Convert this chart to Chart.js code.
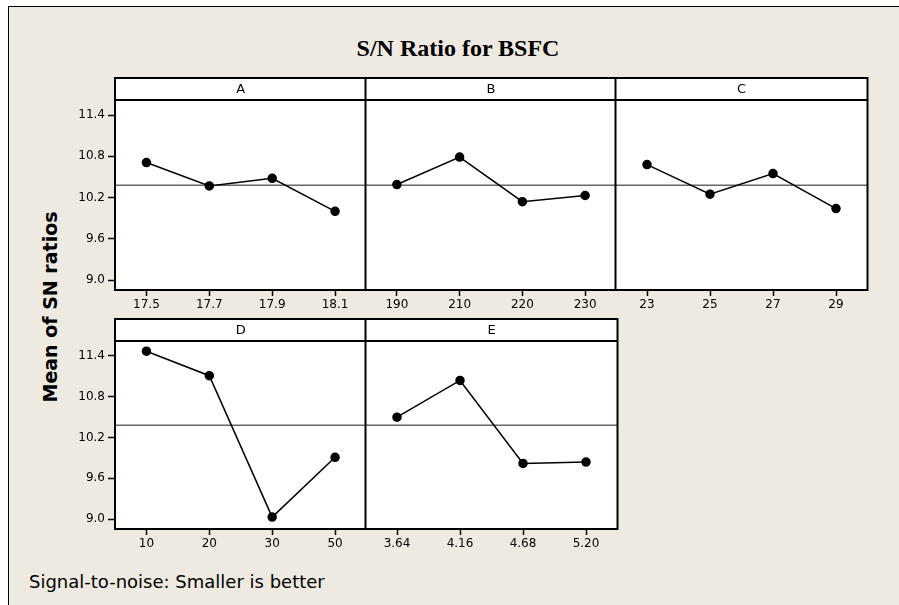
<!DOCTYPE html>
<html>
<head>
<meta charset="utf-8">
<script src="https://cdn.jsdelivr.net/npm/chart.js@4"></script>
<style>
  html, body { margin: 0; background: #fff; overflow: hidden; width: 899px; height: 605px; }
  #frame { position: absolute; left: 8px; top: 6px; width: 891px; height: 599px;
           background: #eeeae1; border-left: 1px solid #000; border-top: 1px solid #000; }
  .panel { position: absolute; }
  #title { position: absolute; left: 0; width: 916px; top: 35px; text-align: center;
           font: bold 24px "Liberation Serif", serif; }
  #ytitle { position: absolute; left: 50px; top: 307px; transform: translate(-50%, -50%) rotate(-90deg);
            font: bold 19px "DejaVu Sans", sans-serif; white-space: nowrap; }
  #note { position: absolute; left: 29px; top: 571px; font: 18px "DejaVu Sans", sans-serif; }
</style>
</head>
<body>
<div id="frame"></div>
<div id="title">S/N Ratio for BSFC</div>
<div id="ytitle">Mean of SN ratios</div>
<div id="note">Signal-to-noise: Smaller is better</div>
<script>
// factor levels and mean S/N ratios
var levelsA = ['17.5', '17.7', '17.9', '18.1'];
var valuesA = [10.71, 10.37, 10.48, 10.00];
var levelsB = ['190', '210', '220', '230'];
var valuesB = [10.39, 10.79, 10.14, 10.23];
var levelsC = ['23', '25', '27', '29'];
var valuesC = [10.68, 10.25, 10.55, 10.04];
var levelsD = ['10', '20', '30', '50'];
var valuesD = [11.47, 11.11, 9.03, 9.91];
var levelsE = ['3.64', '4.16', '4.68', '5.20'];
var valuesE = [10.50, 11.04, 9.82, 9.84];
var grandMean = 10.38;
var yTicks = [9.0, 9.6, 10.2, 10.8, 11.4];

var tickFont = { family: 'DejaVu Sans', size: 12 };

// white panel + strip, box outline and grand mean line
var panelDeco = {
  id: 'panelDeco',
  beforeDraw: function(chart) {
    var a = chart.chartArea, c = chart.ctx;
    c.save();
    c.fillStyle = '#fff';
    c.fillRect(a.left, a.top - 22, a.right - a.left, a.bottom - a.top + 22);
    c.restore();
  },
  beforeDatasetsDraw: function(chart) {
    var a = chart.chartArea, c = chart.ctx;
    var y = chart.scales.y.getPixelForValue(grandMean);
    c.save();
    c.strokeStyle = '#666';
    c.lineWidth = 1.5;
    c.beginPath();
    c.moveTo(a.left, y);
    c.lineTo(a.right, y);
    c.stroke();
    c.restore();
  },
  afterDraw: function(chart) {
    var a = chart.chartArea, c = chart.ctx;
    var s = chart.options.plugins.panelDeco;
    c.save();
    c.strokeStyle = '#000';
    c.lineWidth = 2;
    c.strokeRect(a.left, a.top - 22, a.right - a.left, a.bottom - a.top + 22);
    c.beginPath();
    c.moveTo(a.left, a.top);
    c.lineTo(a.right, a.top);
    c.stroke();
    c.fillStyle = '#000';
    c.font = '13px "DejaVu Sans"';
    c.textAlign = 'center';
    c.textBaseline = 'middle';
    c.fillText(s.label, (a.left + a.right) / 2, a.top - 10);
    c.restore();
  }
};

function makePanel(name, labels, values, plotLeft, plotRight, stripTop, plotBottom, showY) {
  var left = plotLeft - (showY ? 60 : 2);
  var top = stripTop - 2;
  var width = plotRight + 2 - left;
  var div = document.createElement('div');
  div.className = 'panel';
  div.style.left = left + 'px';
  div.style.top = top + 'px';
  div.style.width = width + 'px';
  div.style.height = (plotBottom + 30 - top) + 'px';
  var cv = document.createElement('canvas');
  div.appendChild(cv);
  document.body.appendChild(div);

  var yAxis = {
    display: showY,
    min: 8.855,
    max: 11.62,
    afterBuildTicks: function(sc) { sc.ticks = yTicks.map(function(v) { return { value: v }; }); },
    grid: { drawOnChartArea: false, color: '#000', tickLength: 7, tickWidth: 1.5 },
    border: { display: true, color: '#000', width: 2 },
    ticks: { color: '#000', font: tickFont, padding: 3,
             callback: function(v) { return v.toFixed(1); } }
  };
  if (showY) yAxis.afterFit = function(sc) { sc.width = 60; };

  var ch = new Chart(cv.getContext('2d'), {
    type: 'line',
    data: {
      labels: labels,
      datasets: [{
        data: values,
        borderColor: '#000',
        backgroundColor: '#000',
        borderWidth: 1.5,
        pointRadius: 4,
        pointHoverRadius: 4,
        tension: 0
      }]
    },
    options: {
      responsive: true,
      maintainAspectRatio: false,
      animation: false,
      events: [],
      layout: { padding: { top: 24, left: showY ? 0 : 2, right: 2, bottom: 0 } },
      plugins: {
        legend: { display: false },
        tooltip: { enabled: false },
        panelDeco: { label: name }
      },
      scales: {
        x: {
          offset: true,
          grid: { offset: false, drawOnChartArea: false, color: '#000', tickLength: 6, tickWidth: 1.5 },
          border: { display: false },
          ticks: { color: '#000', font: tickFont, padding: 2, maxRotation: 0, autoSkip: false },
          afterFit: function(sc) { sc.height = 30; }
        },
        y: yAxis
      }
    },
    plugins: [panelDeco]
  });

  // nudge the canvas so the plot area lands on the panel edges
  var a = ch.chartArea;
  var dl = Math.round(left + a.left - plotLeft);
  var dr = Math.round(plotRight - (left + a.right));
  if (dl || dr) {
    div.style.left = (left - dl) + 'px';
    div.style.width = (width + dl + dr) + 'px';
    ch.resize();
  }
}

makePanel('A', levelsA, valuesA, 115, 366, 78, 290, true);
makePanel('B', levelsB, valuesB, 366, 616, 78, 290, false);
makePanel('C', levelsC, valuesC, 616, 867, 78, 290, false);
makePanel('D', levelsD, valuesD, 115, 366, 319, 529, true);
makePanel('E', levelsE, valuesE, 366, 617, 319, 529, false);
</script>
</body>
</html>
